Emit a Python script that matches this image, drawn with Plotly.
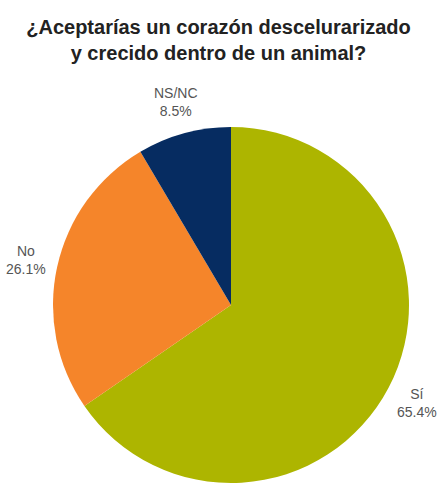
import math
import plotly.graph_objects as go

labels = ["Sí", "No", "NS/NC"]
values = [65.4, 26.1, 8.5]
colors = ["#adb500", "#f5852a", "#062c61"]

W, H = 437, 491

# pie placement in pixels (centre and radius)
CX, CY, R = 231, 305, 178
# distance from the centre to the middle of each outside label
LABEL_R = 210

fig = go.Figure(
    go.Pie(
        labels=labels,
        values=values,
        sort=False,
        direction="clockwise",
        rotation=0,
        marker=dict(colors=colors, line=dict(width=0)),
        textinfo="none",
        showlegend=False,
        hoverinfo="label+percent",
        domain=dict(x=[(CX - R) / W, (CX + R) / W], y=[1 - (CY + R) / H, 1 - (CY - R) / H]),
    )
)

# outside labels placed along each slice's mid-angle
total = sum(values)
cum = 0.0
for lab, v in zip(labels, values):
    mid = (cum + v / 2) / total * 2 * math.pi
    cum += v
    px = CX + LABEL_R * math.sin(mid)
    py = CY - LABEL_R * math.cos(mid)
    fig.add_annotation(
        x=px / W,
        y=1 - py / H,
        xref="paper",
        yref="paper",
        text=f"{lab}<br>{v / total * 100:.1f}%",
        showarrow=False,
        xanchor="center",
        yanchor="middle",
        align="center",
        font=dict(family="Liberation Sans, Arial, sans-serif", size=14, color="#555555"),
    )

fig.update_layout(
    width=W,
    height=H,
    margin=dict(l=0, r=0, t=0, b=0),
    paper_bgcolor="white",
    plot_bgcolor="white",
    title=dict(
        text="<b>¿Aceptarías un corazón descelurarizado<br>y crecido dentro de un animal?</b>",
        x=0.5,
        xanchor="center",
        y=1 - 34 / H,
        yanchor="middle",
        font=dict(family="Liberation Sans, Arial, sans-serif", size=20, color="#222222"),
    ),
)

fig.write_html("out.html")
